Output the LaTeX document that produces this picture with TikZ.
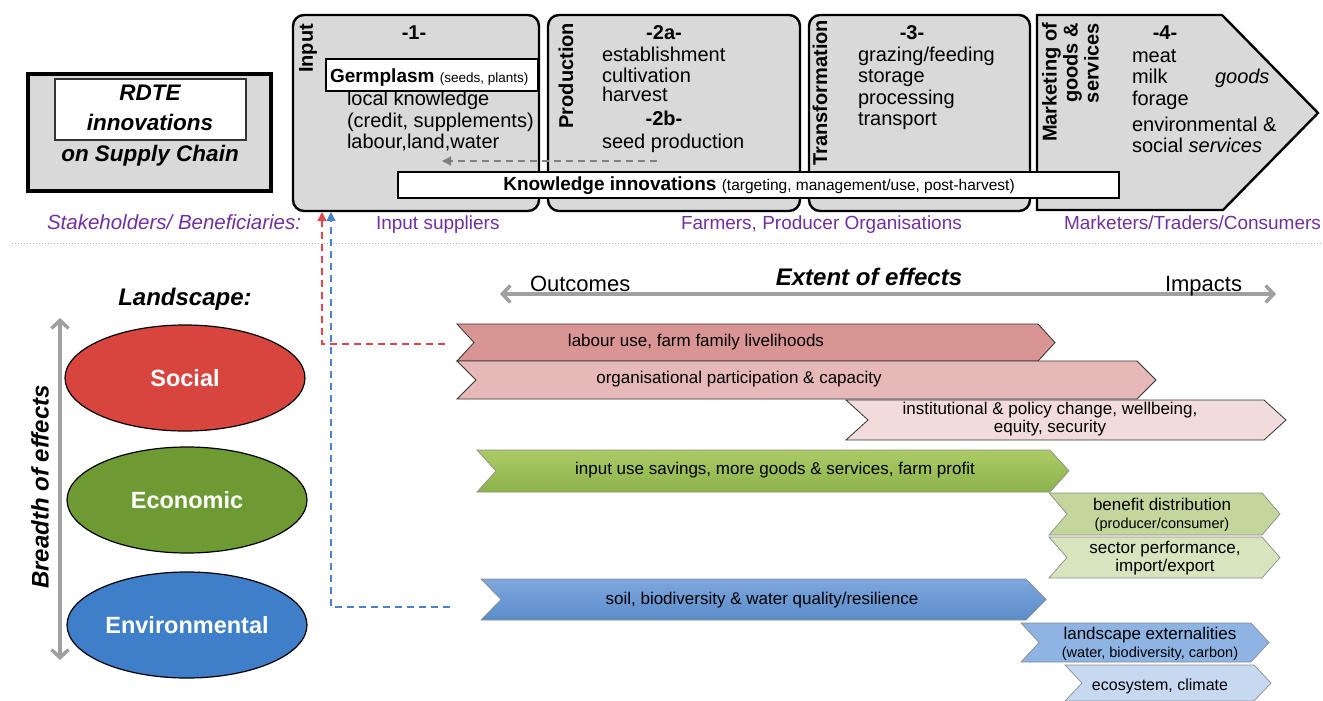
\documentclass[tikz,border=0pt]{standalone}
\usepackage{fontspec}
\setmainfont{Liberation Sans}
\usetikzlibrary{arrows.meta,shapes.geometric}
\definecolor{boxgray}{HTML}{D9D9D9}
\definecolor{purp}{HTML}{7030A0}
\definecolor{arrgray}{HTML}{A0A0A0}
\definecolor{socred}{HTML}{D8453F}
\definecolor{ecogreen}{HTML}{6E9A33}
\definecolor{envblue}{HTML}{3F7EC8}
\definecolor{chA}{HTML}{D99594}
\definecolor{chB}{HTML}{E6B9B8}
\definecolor{chC}{HTML}{F2DCDB}
\definecolor{chDt}{HTML}{ABCB67}
\definecolor{chDb}{HTML}{8DB24A}
\definecolor{chE}{HTML}{C3D69B}
\definecolor{chF}{HTML}{D7E4BD}
\definecolor{chGt}{HTML}{7DA7DC}
\definecolor{chGb}{HTML}{5B8CCB}
\definecolor{chH}{HTML}{8EB4E3}
\definecolor{chI}{HTML}{C6D9F1}
\definecolor{reddash}{HTML}{E0474C}
\definecolor{bluedash}{HTML}{4A7FC9}
% name, x1, x2, y1, y2, depth, style
\newcommand{\mychev}[7]{%
  \path[#7] (#2,#4) -- ({#3-#6},#4) -- (#3,{(#4+#5)/2}) -- ({#3-#6},#5) -- (#2,#5) -- ({#2+#6},{(#4+#5)/2}) -- cycle;
  \coordinate (#1) at ({(#2+#3)/2},{(#4+#5)/2});}
\begin{document}
\begin{tikzpicture}[x=1pt,y=-1pt,
  every node/.style={inner sep=0pt, outer sep=0pt},
  topbox/.style={draw=black, line width=2.4pt, fill=boxgray, rounded corners=11pt},
  tl/.style={anchor=base west, font=\fontsize{20}{22}\selectfont},
  num/.style={anchor=base, font=\fontsize{20}{22}\selectfont\bfseries},
  rot/.style={rotate=90, anchor=east, font=\fontsize{20}{22}\selectfont\bfseries},
  stake/.style={anchor=base west, text=purp, font=\fontsize{19}{22}\selectfont},
  ctext/.style={font=\fontsize{17}{20}\selectfont, align=center},
  stext/.style={font=\fontsize{17}{18}\selectfont, align=center},
  chevpink/.style={draw=black!80, line width=0.8pt},
  chevgreen/.style={draw=black!45, line width=0.7pt},
  chevblue/.style={draw=black!45, line width=0.7pt},
  grayarr/.style={draw=arrgray, line width=3.5pt, arrows={Straight Barb[length=8pt,width=17pt]-Straight Barb[length=8pt,width=17pt]}},
  ell/.style={ellipse, draw=black, line width=1.2pt, minimum width=240pt, minimum height=106pt, text=white, font=\fontsize{23.5}{26}\selectfont\bfseries},
  dashcon/.style={line width=1.3pt, dash pattern=on 7pt off 5pt, -{Triangle[length=9pt,width=9pt]}}
]
\useasboundingbox (0,0) rectangle (1323,701);

% ---------- RDTE box ----------
\node[draw=black, line width=4pt, fill=boxgray, anchor=north west, minimum width=243pt, minimum height=117pt] (rdte) at (28,74) {};
\node[draw=black!80, line width=1.2pt, fill=white, anchor=north west, minimum width=191pt, minimum height=61pt] (rdteinner) at (55,79) {};
\node[anchor=base, font=\fontsize{22.5}{26}\selectfont\bfseries\itshape] (rdteA) at (150,100) {RDTE};
\node[anchor=base, font=\fontsize{22.5}{26}\selectfont\bfseries\itshape] (rdteB) at (150,130) {innovations};
\node[anchor=base, font=\fontsize{22.5}{26}\selectfont\bfseries\itshape] (rdteC) at (150,161) {on Supply Chain};

% ---------- supply chain boxes ----------
\node[topbox, anchor=north west, minimum width=246pt, minimum height=196pt] (inputbox) at (293,15) {};
\node[topbox, anchor=north west, minimum width=252pt, minimum height=196pt] (prodbox) at (548,15) {};
\node[topbox, anchor=north west, minimum width=221pt, minimum height=196pt] (transbox) at (809,15) {};
\path[draw=black, line width=2.4pt, fill=boxgray] (1037,15) -- (1222,15) -- (1318,113) -- (1223,210) -- (1037,210) -- cycle;
\coordinate (mktbox) at (1177,112);

% Input
\node[rot] (inputlab) at (308,24) {Input};
\node[num] (n1) at (414,40) {-1-};
\node[draw=black, line width=1.2pt, fill=white, anchor=north west, minimum width=212pt, minimum height=32pt] (germ) at (326,59) {};
\node[anchor=base west, font=\fontsize{19}{22}\selectfont] (germtxt) at (330,82) {\textbf{Germplasm} {\fontsize{13.5}{15}\selectfont(seeds, plants)}};
\node[tl] (in1) at (347,106) {local knowledge};
\node[tl] (in2) at (347,127) {(credit, supplements)};
\node[tl] (in3) at (347,148) {labour,land,water};

% Production
\node[rot] (prodlab) at (566,23) {Production};
\node[num] (n2a) at (664,40) {-2a-};
\node[tl] (pr1) at (602,62) {establishment};
\node[tl] (pr2) at (602,82) {cultivation};
\node[tl] (pr3) at (602,102) {harvest};
\node[num] (n2b) at (664,125) {-2b-};
\node[tl] (pr4) at (602,148) {seed production};

% Transformation
\node[rot] (translab) at (820,20) {Transformation};
\node[num] (n3) at (912,40) {-3-};
\node[tl] (tr1) at (858,62) {grazing/feeding};
\node[tl] (tr2) at (858,83) {storage};
\node[tl] (tr3) at (858,104) {processing};
\node[tl] (tr4) at (858,125) {transport};

% Marketing
\node[rotate=90, anchor=north east, align=right, font=\fontsize{20}{21}\selectfont\bfseries] (mktlab) at (1042,23) {Marketing of\\goods \&\\services};
\node[num] (n4) at (1165,40) {-4-};
\node[tl] (mk1) at (1132,63) {meat};
\node[tl] (mk2) at (1132,84) {milk};
\node[tl, font=\fontsize{20}{22}\selectfont\itshape] (mkgoods) at (1215,84) {goods};
\node[tl] (mk3) at (1132,105) {forage};
\node[tl] (mk4) at (1132,131) {environmental \&};
\node[tl] (mk5) at (1132,152) {social \textit{services}};

% knowledge innovations
\coordinate (kdashS) at (657,161);
\coordinate (kdashE) at (442,161);
\draw[draw=black!50, line width=1.3pt, dash pattern=on 7pt off 5pt, -{Triangle[length=9pt,width=9pt]}] (kdashS) -- (kdashE);
\node[draw=black, line width=1.2pt, fill=white, anchor=north west, minimum width=721pt, minimum height=26pt] (know) at (398,172) {};
\node[font=\fontsize{19}{20}\selectfont] (knowtxt) at (759,185.5) {\textbf{Knowledge innovations} {\fontsize{15.5}{17}\selectfont(targeting, management/use, post-harvest)}};

% stakeholders
\node[stake, font=\fontsize{20.5}{22}\selectfont\itshape] (stk) at (47,229) {Stakeholders/ Beneficiaries:};
\node[stake] (stk1) at (376,229) {Input suppliers};
\node[stake] (stk2) at (681,229) {Farmers, Producer Organisations};
\node[stake] (stk3) at (1064,229) {Marketers/Traders/Consumers};

% separator
\coordinate (sepL) at (12,243);
\coordinate (sepR) at (1323,243);
\draw[black!30, line width=1pt, dotted] (sepL) -- (sepR);

% ---------- lower part ----------
\node[anchor=base, font=\fontsize{24}{26}\selectfont\bfseries\itshape] (land) at (185,305) {Landscape:};
\coordinate (bTop) at (60,318);
\coordinate (bBot) at (60,660);
\draw[grayarr] (bTop) -- (bBot);
\node[rotate=90, font=\fontsize{24}{26}\selectfont\bfseries\itshape] (breadth) at (40,487) {Breadth of effects};

\node[ell, fill=socred] (social) at (185,378) {Social};
\node[ell, fill=ecogreen] (econ) at (187,500) {Economic};
\node[ell, fill=envblue] (envir) at (187,625) {Environmental};

% extent of effects
\coordinate (outL) at (500,294);
\coordinate (outR) at (1276,294);
\draw[grayarr] (outL) -- (outR);
\node[anchor=base west, font=\fontsize{22}{24}\selectfont] (outc) at (530,291) {Outcomes};
\node[anchor=base, font=\fontsize{24}{26}\selectfont\bfseries\itshape] (extent) at (869,285) {Extent of effects};
\node[anchor=base west, font=\fontsize{22}{24}\selectfont] (impc) at (1165,291) {Impacts};

% chevrons
\mychev{cA}{457}{1055}{324}{361}{17}{chevpink, fill=chA}
\mychev{cB}{457}{1156}{361}{399}{19}{chevpink, fill=chB}
\mychev{cC}{846}{1286}{400}{440}{22}{chevpink, fill=chC}
\mychev{cD}{477}{1069}{450}{492}{19}{chevgreen, top color=chDt, bottom color=chDb}
\mychev{cE}{1049}{1280}{493}{535}{18}{chevgreen, fill=chE}
\mychev{cF}{1049}{1280}{537}{578}{18}{chevgreen, fill=chF}
\mychev{cG}{481}{1046}{579}{620}{20}{chevblue, top color=chGt, bottom color=chGb}
\mychev{cH}{1021}{1269}{623}{662}{18}{chevblue, fill=chH}
\mychev{cI}{1065}{1271}{665}{701}{17}{chevblue, fill=chI}

\node[ctext] (tA) at (696,342) {labour use, farm family livelihoods};
\node[ctext] (tB) at (739,379) {organisational participation \& capacity};
\node[stext] (tC) at (1050,419) {institutional \& policy change, wellbeing,\\equity, security};
\node[ctext] (tD) at (775,470) {input use savings, more goods \& services, farm profit};
\node[stext] (tE) at (1162,515) {benefit distribution\\{\fontsize{14.5}{17}\selectfont(producer/consumer)}};
\node[stext] (tF) at (1165,558) {sector performance,\\import/export};
\node[stext] (tG) at (762,600) {soil, biodiversity \& water quality/resilience};
\node[stext] (tH) at (1150,644) {landscape externalities\\{\fontsize{14.5}{17}\selectfont(water, biodiversity, carbon)}};
\node[font=\fontsize{16}{18}\selectfont] (tI) at (1160,686) {ecosystem, climate};

% dashed connectors to the Input box
\coordinate (redS) at (445,344);
\coordinate (redT) at (322,212);
\coordinate (blueS) at (450,607);
\coordinate (blueT) at (331,212);
\draw[dashcon, reddash] (redS) -| (redT);
\draw[dashcon, bluedash] (blueS) -| (blueT);
\end{tikzpicture}
\end{document}
